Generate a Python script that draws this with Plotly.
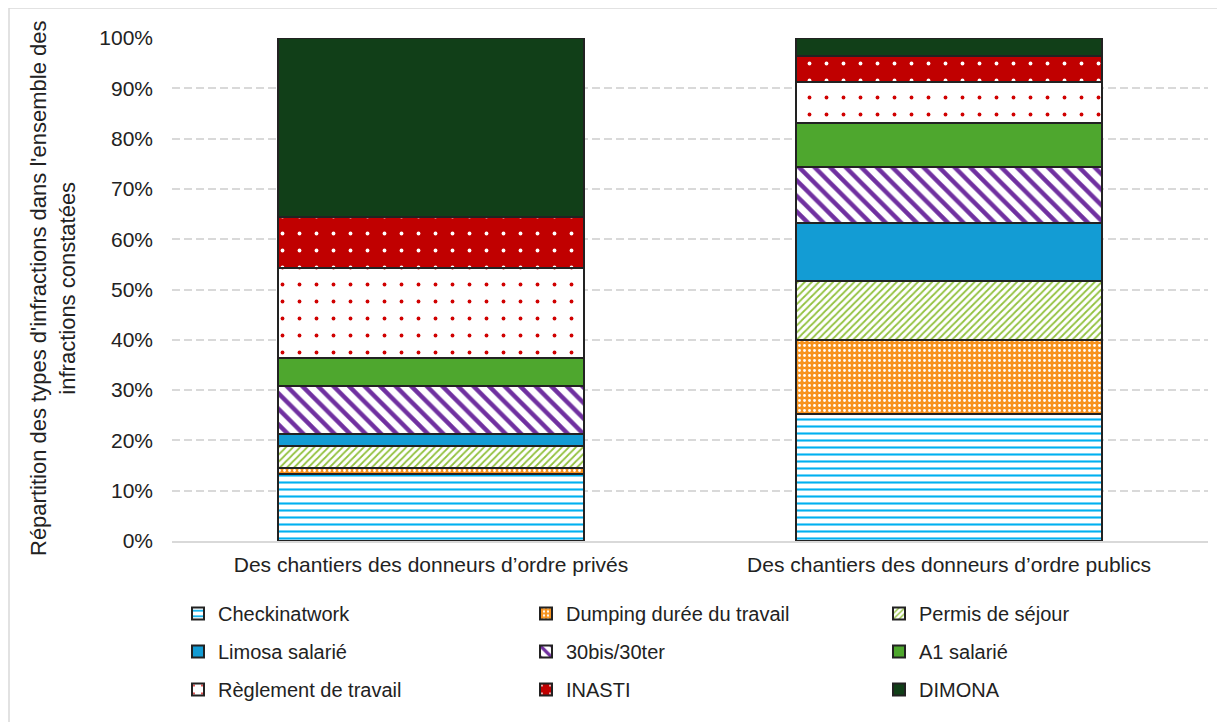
import plotly.graph_objects as go

categories = ["Des chantiers des donneurs d’ordre privés",
              "Des chantiers des donneurs d’ordre publics"]

series_names = ["Checkinatwork", "Dumping durée du travail", "Permis de séjour",
                "Limosa salarié", "30bis/30ter", "A1 salarié",
                "Règlement de travail", "INASTI", "DIMONA"]

checkinatwork = [0.133, 0.252]
dumping = [0.012, 0.147]
permis = [0.044, 0.117]
limosa = [0.023, 0.117]
bis30 = [0.097, 0.110]
a1 = [0.055, 0.089]
reglement = [0.179, 0.080]
inasti = [0.102, 0.052]
dimona = [0.355, 0.036]

values = [checkinatwork, dumping, permis, limosa, bis30, a1, reglement, inasti, dimona]

styles = [
    dict(shape="-", fg="#00B0F0", bg="white", size=7, sol=0.3),
    dict(shape=".", fg="white", bg="#F7931E", size=5, sol=0.25),
    dict(shape="/", fg="#92C13E", bg="white", size=5, sol=0.35),
    dict(shape="", fg="#139CD4", bg="#139CD4", size=8, sol=0.3),
    dict(shape="\\", fg="#7030A0", bg="white", size=11, sol=0.4),
    dict(shape="", fg="#4EA72E", bg="#4EA72E", size=8, sol=0.3),
    dict(shape=".", fg="#D00000", bg="white", size=17, sol=0.04),
    dict(shape=".", fg="white", bg="#C00000", size=17, sol=0.04),
    dict(shape="", fg="#113F18", bg="#113F18", size=8, sol=0.3),
]

legend_of = ["legend", "legend2", "legend3",
             "legend", "legend2", "legend3",
             "legend", "legend2", "legend3"]

fig = go.Figure()
for i, (name, vals, st) in enumerate(zip(series_names, values, styles)):
    marker = dict(color=st["bg"], line=dict(color="#222222", width=2))
    if st["shape"]:
        marker["pattern"] = dict(shape=st["shape"], fgcolor=st["fg"], bgcolor=st["bg"],
                                 size=st["size"], solidity=st["sol"], fillmode="replace")
    fig.add_trace(go.Bar(name=name, x=categories, y=vals, marker=marker,
                         legend=legend_of[i], legendgroup=name,
                         hovertemplate="%{y:.1%}<extra>" + name + "</extra>"))

# page has an 8px body margin; figure coordinates are screen - 8
OFF = 8
W, H = 1217, 714
L, T = 164, 30
pw, ph = 1036, 503
R = W - L - pw
B = H - T - ph

def px_x(screen):
    return (screen - OFF - L) / pw

def px_y(screen):
    return (H - B - (screen - OFF)) / ph

legend_common = dict(orientation="v", font=dict(family="Liberation Sans, Arial", size=20, color="#222222"),
                     yanchor="top", y=px_y(594), tracegroupgap=9, bgcolor="rgba(0,0,0,0)",
                     itemwidth=30)

fig.update_layout(
    width=W, height=H,
    margin=dict(l=L, r=R, t=T, b=B, autoexpand=False),
    barmode="stack",
    bargap=0.41,
    plot_bgcolor="white",
    paper_bgcolor="white",
    font=dict(family="Liberation Sans, Arial", size=21, color="#222222"),
    legend=dict(x=px_x(178), xanchor="left", **legend_common),
    legend2=dict(x=px_x(526), xanchor="left", **legend_common),
    legend3=dict(x=px_x(879), xanchor="left", **legend_common),
    xaxis=dict(showline=True, linecolor="#D9D9D9", linewidth=2, ticks="",
               tickfont=dict(size=21), showgrid=False, ticklabelstandoff=4),
    yaxis=dict(range=[0, 1], dtick=0.1, tickformat=".0%", showgrid=True,
               gridcolor="#D9D9D9", griddash="8px,4px", gridwidth=1.5,
               zeroline=False, ticks="", ticklabelstandoff=18,
               tickfont=dict(size=21)),
    annotations=[dict(text="Répartition des types d'infractions dans l'ensemble des<br>infractions constatées",
                      textangle=-90, x=px_x(53), y=px_y(289), xref="paper", yref="paper",
                      xanchor="center", yanchor="middle", showarrow=False,
                      font=dict(size=22, color="#222222"), align="center")],
    shapes=[dict(type="rect", xref="paper", yref="paper",
                 x0=px_x(9), x1=px_x(1240), y0=px_y(740), y1=px_y(8),
                 line=dict(color="#D9D9D9", width=1.5), fillcolor="rgba(0,0,0,0)", layer="below")],
)

fig.write_html("out.html")
